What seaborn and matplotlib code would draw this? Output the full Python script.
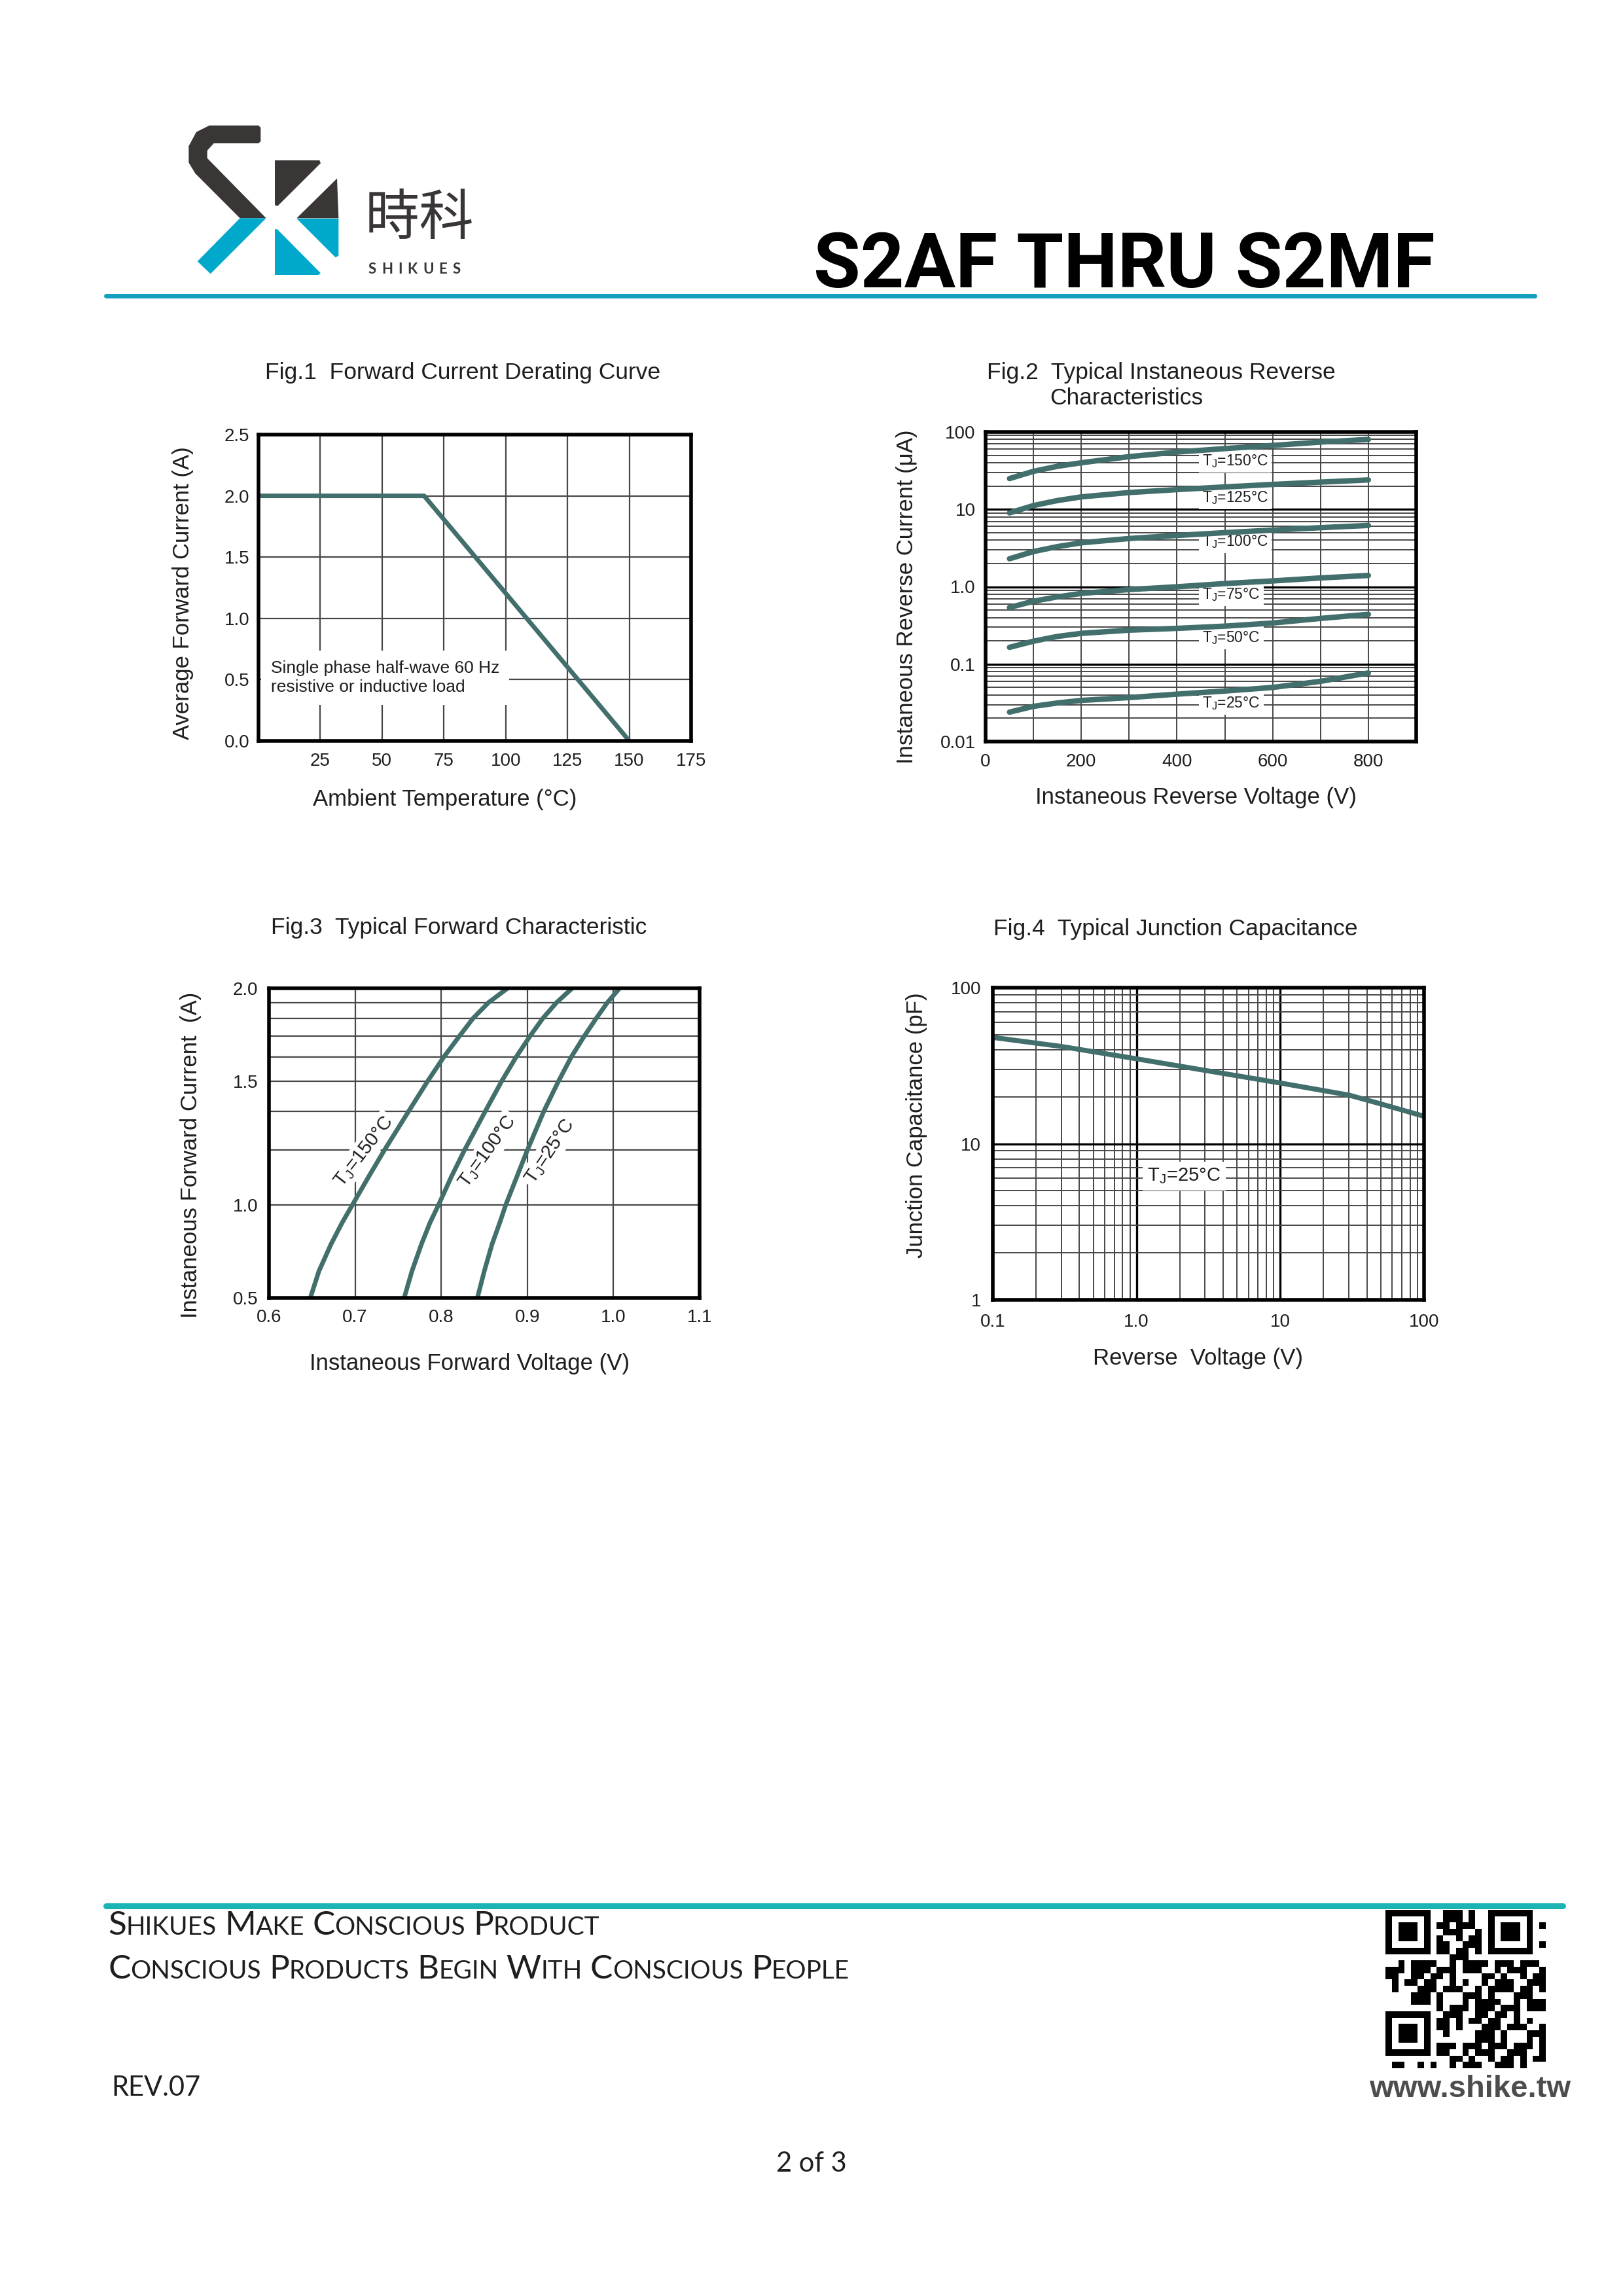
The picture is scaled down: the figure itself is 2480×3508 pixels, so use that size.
import numpy as np
import pandas as pd
import seaborn as sns
import matplotlib.pyplot as plt
from matplotlib.patches import Polygon
from matplotlib.lines import Line2D
from matplotlib.ticker import FixedLocator, FixedFormatter, NullFormatter

W, H = 2480, 3508

# ---- data ----
# Fig.1 forward current derating
fig1_temp = [0, 67, 150]
fig1_current = [2.0, 2.0, 0.0]
fig1_xticks = [25, 50, 75, 100, 125, 150, 175]
fig1_yticks = [0.0, 0.5, 1.0, 1.5, 2.0, 2.5]

# Fig.2 reverse leakage (uA) vs reverse voltage
fig2_voltage = [50, 100, 150, 200, 300, 400, 500, 600, 700, 800]
fig2_tj = ["150", "125", "100", "75", "50", "25"]
fig2_i150 = [25, 31, 36, 40, 48, 55, 61, 67, 74, 80]
fig2_i125 = [9.0, 11.2, 13.0, 14.5, 16.5, 18, 19.5, 21, 22.5, 24]
fig2_i100 = [2.3, 2.85, 3.3, 3.7, 4.2, 4.6, 5.0, 5.4, 5.8, 6.2]
fig2_i75 = [0.54, 0.65, 0.74, 0.82, 0.92, 1.0, 1.1, 1.19, 1.3, 1.4]
fig2_i50 = [0.165, 0.198, 0.228, 0.25, 0.275, 0.29, 0.31, 0.34, 0.39, 0.44]
fig2_i25 = [0.024, 0.0285, 0.0315, 0.034, 0.037, 0.041, 0.045, 0.05, 0.06, 0.077]
fig2_label_y = [42, 14, 3.8, 0.79, 0.218, 0.031]
fig2_xticks = [0, 200, 400, 600, 800]
fig2_yticks = [0.01, 0.1, 1, 10, 100]
fig2_yticklabels = ["0.01", "0.1", "1.0", "10", "100"]

# Fig.3 forward characteristic (y in the printed log-grid units)
fig3_y = [1.0, 1.22, 1.49, 1.75, 2.0, 2.47, 3.0, 4.0, 5.0, 6.0, 7.0, 8.0, 9.0, 10]
fig3_v150 = [0.648, 0.658, 0.672, 0.685, 0.697, 0.716, 0.734, 0.762, 0.784, 0.803, 0.821, 0.837, 0.855, 0.877]
fig3_v100 = [0.757, 0.766, 0.777, 0.787, 0.797, 0.812, 0.827, 0.851, 0.870, 0.887, 0.903, 0.918, 0.934, 0.952]
fig3_v25 = [0.842, 0.850, 0.859, 0.868, 0.875, 0.888, 0.900, 0.919, 0.936, 0.951, 0.966, 0.980, 0.993, 1.007]
fig3_xticks = [0.6, 0.7, 0.8, 0.9, 1.0, 1.1]
fig3_yticks = [1, 2, 5, 10]
fig3_yticklabels = ["0.5", "1.0", "1.5", "2.0"]
fig3_labels = ["150", "100", "25"]
fig3_label_x = [0.710, 0.854, 0.926]
fig3_label_y = [2.97, 2.97, 2.97]
fig3_label_rot = [52, 54, 56]

# Fig.4 junction capacitance
fig4_voltage = [0.1, 0.3, 1, 3, 10, 30, 50, 100]
fig4_cap = [48, 42, 35, 29.5, 24.5, 20.5, 18, 15]
fig4_xticks = [0.1, 1, 10, 100]
fig4_xticklabels = ["0.1", "1.0", "10", "100"]
fig4_yticks = [1, 10, 100]

CURVE = "#426f6c"
GRID = "#474747"
TXT = "#1e1e1e"
TICK_FS = 20
LABEL_FS = 25
TITLE_FS = 25.5

sns.set_style("white")
plt.rcParams['font.family'] = ['Liberation Sans', 'DejaVu Sans']
plt.rcParams['mathtext.fontset'] = 'custom'
plt.rcParams['mathtext.rm'] = 'Liberation Sans'

fig = plt.figure(figsize=(W / 100, H / 100), dpi=100)
fig.patch.set_facecolor("white")


def box(x0, y0, x1, y1):
    return [x0 / W, 1 - y1 / H, (x1 - x0) / W, (y1 - y0) / H]


def ftext(x, y, s, **kw):
    return fig.text(x / W, 1 - y / H, s, **kw)


def frame(ax):
    ax.set_xlabel("")
    ax.set_ylabel("")
    for sp in ax.spines.values():
        sp.set_visible(True)
        sp.set_color("black")
        sp.set_linewidth(4)
        sp.set_zorder(6)
    ax.set_axisbelow(True)


def tj(t):
    return "T$_\\mathregular{J}$=" + t + "°C"


# ---------------- Fig.1 ----------------
ax1 = fig.add_axes(box(395, 664, 1056, 1132))
sns.lineplot(x=fig1_temp, y=fig1_current, ax=ax1, color=CURVE, lw=5, zorder=4)
ax1.set_xlim(0, 175)
ax1.set_ylim(0, 2.5)
ax1.set_xticks(fig1_xticks)
ax1.set_yticks(fig1_yticks)
ax1.set_yticklabels([f"{v:.1f}" for v in fig1_yticks])
ax1.grid(True, color=GRID, lw=1.6)
ax1.tick_params(axis="x", length=0, labelsize=TICK_FS, pad=13, colors=TXT)
ax1.tick_params(axis="y", length=0, labelsize=TICK_FS, pad=10, colors=TXT)
ax1.text(5, 0.515, "Single phase half-wave 60 Hz\nresistive or inductive load",
         fontsize=19, va="center", ha="left", linespacing=1.3, color=TXT, zorder=3,
         bbox=dict(boxstyle="square,pad=0.55", fc="white", ec="none"))
frame(ax1)
ftext(707, 569, "Fig.1  Forward Current Derating Curve", fontsize=TITLE_FS, ha="center", va="center", color=TXT)
ftext(680, 1221, "Ambient Temperature (°C)", fontsize=LABEL_FS, ha="center", va="center", color=TXT)
ftext(280, 906, "Average Forward Current (A)", fontsize=LABEL_FS, ha="center", va="center", rotation=90, color=TXT)

# ---------------- Fig.2 ----------------
ax2 = fig.add_axes(box(1506, 660, 2164, 1133))
ax2.set_yscale("log")
fig2_df = pd.DataFrame({
    "V": fig2_voltage * len(fig2_tj),
    "I": fig2_i150 + fig2_i125 + fig2_i100 + fig2_i75 + fig2_i50 + fig2_i25,
    "Tj": [t for t in fig2_tj for _ in fig2_voltage],
})
sns.lineplot(data=fig2_df, x="V", y="I", units="Tj", estimator=None, sort=False,
             color=CURVE, lw=6, ax=ax2, zorder=4)
ax2.set_xlim(0, 900)
ax2.set_ylim(0.01, 100)
ax2.xaxis.set_major_locator(FixedLocator(fig2_xticks))
ax2.xaxis.set_minor_locator(FixedLocator([100, 300, 500, 700]))
ax2.yaxis.set_major_locator(FixedLocator(fig2_yticks))
ax2.yaxis.set_major_formatter(FixedFormatter(fig2_yticklabels))
ax2.yaxis.set_minor_locator(FixedLocator([m * 10.0 ** e for e in range(-2, 2) for m in range(2, 10)]))
ax2.yaxis.set_minor_formatter(NullFormatter())
ax2.grid(True, which="minor", color=GRID, lw=1.4)
ax2.grid(True, which="major", axis="x", color=GRID, lw=1.4)
ax2.grid(True, which="major", axis="y", color="black", lw=2.4)
ax2.tick_params(which="both", length=0)
ax2.tick_params(axis="x", labelsize=TICK_FS, pad=13, colors=TXT)
ax2.tick_params(axis="y", labelsize=TICK_FS, pad=11, colors=TXT)
for t, y in zip(fig2_tj, fig2_label_y):
    ax2.text(453, y, tj(t), fontsize=16.5, va="center", ha="left", color=TXT, zorder=3,
             bbox=dict(boxstyle="square,pad=0.22", fc="white", ec="none"))
frame(ax2)
ftext(1508, 569, "Fig.2  Typical Instaneous Reverse", fontsize=TITLE_FS, ha="left", va="center", color=TXT)
ftext(1604, 608, "Characteristics", fontsize=TITLE_FS, ha="left", va="center", color=TXT)
ftext(1827, 1219, "Instaneous Reverse Voltage (V)", fontsize=LABEL_FS, ha="center", va="center", color=TXT)
ftext(1385, 912, "Instaneous Reverse Current (μA)", fontsize=LABEL_FS, ha="center", va="center", rotation=90, color=TXT)

# ---------------- Fig.3 ----------------
ax3 = fig.add_axes(box(411, 1510, 1069, 1983))
ax3.set_yscale("log")
fig3_df = pd.DataFrame({
    "V": fig3_v150 + fig3_v100 + fig3_v25,
    "I": fig3_y * 3,
    "Tj": ["150"] * len(fig3_v150) + ["100"] * len(fig3_v100) + ["25"] * len(fig3_v25),
})
sns.lineplot(data=fig3_df, x="V", y="I", units="Tj", estimator=None, sort=False,
             color=CURVE, lw=5, ax=ax3, zorder=4)
ax3.set_xlim(0.6, 1.1)
ax3.set_ylim(1, 10)
ax3.xaxis.set_major_locator(FixedLocator(fig3_xticks))
ax3.xaxis.set_major_formatter(FixedFormatter([f"{v:.1f}" for v in fig3_xticks]))
ax3.yaxis.set_major_locator(FixedLocator(fig3_yticks))
ax3.yaxis.set_major_formatter(FixedFormatter(fig3_yticklabels))
ax3.yaxis.set_minor_locator(FixedLocator([3, 4, 6, 7, 8, 9]))
ax3.yaxis.set_minor_formatter(NullFormatter())
ax3.grid(True, which="both", color=GRID, lw=1.6)
ax3.tick_params(which="both", length=0)
ax3.tick_params(axis="x", labelsize=TICK_FS, pad=12, colors=TXT)
ax3.tick_params(axis="y", labelsize=TICK_FS, pad=12, colors=TXT)
for t, x, y, r in zip(fig3_labels, fig3_label_x, fig3_label_y, fig3_label_rot):
    ax3.text(x, y, tj(t), fontsize=21, rotation=r, rotation_mode="anchor",
             va="center", ha="center", color=TXT, zorder=3,
             bbox=dict(boxstyle="square,pad=0.15", fc="white", ec="none"))
frame(ax3)
ftext(701, 1418, "Fig.3  Typical Forward Characteristic", fontsize=TITLE_FS, ha="center", va="center", color=TXT)
ftext(718, 2084, "Instaneous Forward Voltage (V)", fontsize=LABEL_FS, ha="center", va="center", color=TXT)
ftext(291, 1765, "Instaneous Forward Current  (A)", fontsize=LABEL_FS, ha="center", va="center", rotation=90, color=TXT)

# ---------------- Fig.4 ----------------
ax4 = fig.add_axes(box(1517, 1509, 2176, 1986))
ax4.set_xscale("log")
ax4.set_yscale("log")
sns.lineplot(x=fig4_voltage, y=fig4_cap, ax=ax4, color=CURVE, lw=5.5, zorder=4)
ax4.set_xlim(0.1, 100)
ax4.set_ylim(1, 100)
ax4.xaxis.set_major_locator(FixedLocator(fig4_xticks))
ax4.xaxis.set_major_formatter(FixedFormatter(fig4_xticklabels))
ax4.xaxis.set_minor_locator(FixedLocator([m * 10.0 ** e for e in range(-1, 2) for m in range(2, 10)]))
ax4.xaxis.set_minor_formatter(NullFormatter())
ax4.yaxis.set_major_locator(FixedLocator(fig4_yticks))
ax4.yaxis.set_major_formatter(FixedFormatter([str(v) for v in fig4_yticks]))
ax4.yaxis.set_minor_locator(FixedLocator([m * 10.0 ** e for e in range(0, 2) for m in range(2, 10)]))
ax4.yaxis.set_minor_formatter(NullFormatter())
ax4.grid(True, which="minor", color=GRID, lw=1.4)
ax4.grid(True, which="major", color="black", lw=2.4)
ax4.tick_params(which="both", length=0)
ax4.tick_params(axis="x", labelsize=TICK_FS, pad=15, colors=TXT)
ax4.tick_params(axis="y", labelsize=TICK_FS, pad=13, colors=TXT)
ax4.text(2.14, 6.2, tj("25"), fontsize=21, va="center", ha="center", color=TXT, zorder=3,
         bbox=dict(boxstyle="square,pad=0.25", fc="white", ec="none"))
frame(ax4)
ftext(1796, 1420, "Fig.4  Typical Junction Capacitance", fontsize=TITLE_FS, ha="center", va="center", color=TXT)
ftext(1830, 2075, "Reverse  Voltage (V)", fontsize=LABEL_FS, ha="center", va="center", color=TXT)
ftext(1400, 1719, "Junction Capacitance (pF)", fontsize=LABEL_FS, ha="center", va="center", rotation=90, color=TXT)

# ---------------- header ----------------
DARK = "#3a3636"
BLUE = "#00a8cb"
logo = fig.add_axes(box(270, 180, 750, 440))
logo.set_xlim(0, 1440)
logo.set_ylim(780, 0)
logo.axis("off")
logo_shapes = [
    ([(150, 35), (375, 35), (385, 45), (385, 108), (375, 117), (170, 117), (140, 150),
      (140, 185), (410, 460), (290, 460), (85, 255), (55, 205), (55, 130), (90, 65)], DARK),
    ([(290, 460), (410, 460), (155, 715), (95, 658)], BLUE),
    ([(450, 195), (655, 195), (660, 208), (462, 405), (450, 400)], DARK),
    ([(735, 278), (742, 460), (550, 460)], DARK),
    ([(550, 462), (742, 462), (742, 632), (728, 640)], BLUE),
    ([(450, 512), (460, 510), (660, 712), (650, 720), (450, 720)], BLUE),
]
for pts, c in logo_shapes:
    logo.add_patch(Polygon(pts, closed=True, fc=c, ec="none"))

ftext(558, 334, "時科", fontsize=60, ha="left", va="center", color=DARK,
      family=["Noto Sans CJK TC", "DejaVu Sans"])
renderer = fig.canvas.get_renderer()
cx = 563
for ch in "SHIKUES":
    t = ftext(cx, 418, ch, fontsize=16, fontweight="bold", ha="left", va="baseline",
              color=DARK, family=["Lato", "DejaVu Sans"])
    cx += t.get_window_extent(renderer).width + 8

ftext(1718, 439, "S2AF THRU S2MF", fontsize=84, fontweight="bold", ha="center", va="baseline",
      color="black", family=["Roboto", "Liberation Sans"])
fig.add_artist(Line2D([162 / W, 2345 / W], [1 - 452 / H, 1 - 452 / H], transform=fig.transFigure,
                      color="#129fc0", lw=5))

# ---------------- footer ----------------
fig.add_artist(Line2D([162 / W, 2388 / W], [1 - 2912 / H, 1 - 2912 / H], transform=fig.transFigure,
                      color="#1bb3b3", lw=6.5, solid_capstyle="round"))


def small_caps(x, y, text, big, small):
    cur = x
    for word in text.split(" "):
        t = ftext(cur, y, word[0], fontsize=big, ha="left", va="baseline", color=TXT,
                  family=["Lato", "DejaVu Sans"])
        cur += t.get_window_extent(renderer).width
        if len(word) > 1:
            t = ftext(cur, y, word[1:].upper(), fontsize=small, ha="left", va="baseline",
                      color=TXT, family=["Lato", "DejaVu Sans"])
            cur += t.get_window_extent(renderer).width
        cur += big * 0.32


small_caps(165, 2956, "Shikues Make Conscious Product", 37, 28)
small_caps(165, 3023, "Conscious Products Begin With Conscious People", 37, 28)
ftext(170, 3202, "REV.07", fontsize=30, ha="left", va="baseline", color=TXT, family=["Lato", "DejaVu Sans"])
ftext(1240, 3318, "2 of 3", fontsize=30, ha="center", va="baseline", color=TXT, family=["Lato", "DejaVu Sans"])
ftext(2246, 3204, "www.shike.tw", fontsize=34, fontweight="bold", ha="center", va="baseline",
      color="#4d4d4d", family=["Liberation Sans", "DejaVu Sans"])

# decorative QR block
qr_seed = np.frombuffer(("http://www.shike.tw/" * 5).encode(), dtype=np.uint8)
qr = np.unpackbits(qr_seed)[:625].reshape(25, 25).astype(float)
finder = np.zeros((9, 9))
finder[1:8, 1:8] = 1
finder[2:7, 2:7] = 0
finder[3:6, 3:6] = 1
for r0, c0 in [(0, 0), (0, 16), (16, 0)]:
    rs, cs = slice(max(r0 - 1, 0), r0 + 8), slice(max(c0 - 1, 0), c0 + 8)
    sub = finder[1 if r0 == 0 else 0:, 1 if c0 == 0 else 0:]
    qr[rs, cs] = sub[: qr[rs, cs].shape[0], : qr[rs, cs].shape[1]]
qax = fig.add_axes(box(2117, 2918, 2362, 3160))
qax.imshow(qr, cmap="gray_r", interpolation="nearest", vmin=0, vmax=1, aspect="auto")
qax.axis("off")

fig.savefig("out.png", dpi=100, facecolor="white")
